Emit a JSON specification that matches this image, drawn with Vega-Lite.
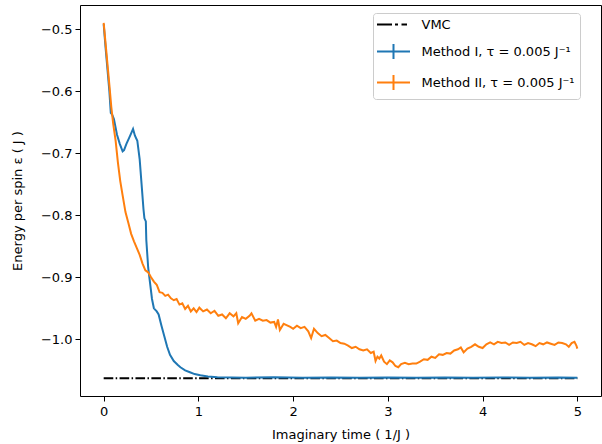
{
"$schema":"https://vega.github.io/schema/vega-lite/v6.json",
"width":521,"height":391,
"autosize":{"type":"none"},
"padding":{"left":80,"top":5,"right":1,"bottom":48},
"background":"white",
"config":{"view":{"stroke":"black","strokeWidth":1},"font":"DejaVu Sans",
 "axis":{"domain":false,"grid":false,"tickColor":"black","tickSize":5,"labelFontSize":13,"labelColor":"black","titleFontSize":13,"titleFontWeight":"normal","titleColor":"black"}},
"data":{"values":[
{"s":"VMC","t":0,"e":-1.0625},{"s":"VMC","t":5,"e":-1.0625},
{"s":"I","t":0,"e":-0.492},{"s":"I","t":0.02,"e":-0.53},{"s":"I","t":0.04,"e":-0.565},{"s":"I","t":0.06,"e":-0.6},{"s":"I","t":0.075,"e":-0.635},{"s":"I","t":0.09,"e":-0.638},{"s":"I","t":0.108,"e":-0.645},{"s":"I","t":0.14,"e":-0.67},{"s":"I","t":0.17,"e":-0.685},{"s":"I","t":0.2,"e":-0.697},{"s":"I","t":0.215,"e":-0.695},{"s":"I","t":0.24,"e":-0.685},{"s":"I","t":0.27,"e":-0.675},{"s":"I","t":0.29,"e":-0.668},{"s":"I","t":0.31,"e":-0.661},{"s":"I","t":0.33,"e":-0.672},{"s":"I","t":0.355,"e":-0.68},{"s":"I","t":0.38,"e":-0.71},{"s":"I","t":0.4,"e":-0.75},{"s":"I","t":0.42,"e":-0.79},{"s":"I","t":0.43,"e":-0.805},{"s":"I","t":0.445,"e":-0.81},{"s":"I","t":0.45,"e":-0.84},{"s":"I","t":0.47,"e":-0.885},{"s":"I","t":0.49,"e":-0.91},{"s":"I","t":0.51,"e":-0.935},{"s":"I","t":0.53,"e":-0.95},{"s":"I","t":0.56,"e":-0.955},{"s":"I","t":0.58,"e":-0.96},{"s":"I","t":0.61,"e":-0.978},{"s":"I","t":0.64,"e":-0.995},{"s":"I","t":0.67,"e":-1.012},{"s":"I","t":0.7,"e":-1.025},{"s":"I","t":0.74,"e":-1.035},{"s":"I","t":0.78,"e":-1.041},{"s":"I","t":0.81,"e":-1.045},{"s":"I","t":0.86,"e":-1.05},{"s":"I","t":0.91,"e":-1.053},{"s":"I","t":0.96,"e":-1.056},{"s":"I","t":1.02,"e":-1.058},{"s":"I","t":1.1,"e":-1.06},{"s":"I","t":1.2,"e":-1.0612},{"s":"I","t":1.5,"e":-1.0618},{"s":"I","t":1.8,"e":-1.0612},{"s":"I","t":2.1,"e":-1.062},{"s":"I","t":2.4,"e":-1.0613},{"s":"I","t":2.7,"e":-1.0619},{"s":"I","t":3.0,"e":-1.0614},{"s":"I","t":3.3,"e":-1.062},{"s":"I","t":3.6,"e":-1.0613},{"s":"I","t":3.9,"e":-1.0618},{"s":"I","t":4.2,"e":-1.0614},{"s":"I","t":4.5,"e":-1.0619},{"s":"I","t":4.8,"e":-1.0613},{"s":"I","t":5.0,"e":-1.0617},
{"s":"II","t":0,"e":-0.49},{"s":"II","t":0.03,"e":-0.54},{"s":"II","t":0.06,"e":-0.59},{"s":"II","t":0.08,"e":-0.625},{"s":"II","t":0.1,"e":-0.652},{"s":"II","t":0.126,"e":-0.68},{"s":"II","t":0.15,"e":-0.715},{"s":"II","t":0.175,"e":-0.745},{"s":"II","t":0.2,"e":-0.768},{"s":"II","t":0.23,"e":-0.795},{"s":"II","t":0.26,"e":-0.812},{"s":"II","t":0.29,"e":-0.83},{"s":"II","t":0.32,"e":-0.842},{"s":"II","t":0.35,"e":-0.853},{"s":"II","t":0.38,"e":-0.864},{"s":"II","t":0.41,"e":-0.878},{"s":"II","t":0.44,"e":-0.889},{"s":"II","t":0.47,"e":-0.892},{"s":"II","t":0.5,"e":-0.9},{"s":"II","t":0.53,"e":-0.907},{"s":"II","t":0.56,"e":-0.912},{"s":"II","t":0.59,"e":-0.924},{"s":"II","t":0.62,"e":-0.925},{"s":"II","t":0.65,"e":-0.93},{"s":"II","t":0.68,"e":-0.928},{"s":"II","t":0.71,"e":-0.934},{"s":"II","t":0.74,"e":-0.937},{"s":"II","t":0.77,"e":-0.935},{"s":"II","t":0.8,"e":-0.944},{"s":"II","t":0.83,"e":-0.942},{"s":"II","t":0.86,"e":-0.951},{"s":"II","t":0.89,"e":-0.946},{"s":"II","t":0.92,"e":-0.955},{"s":"II","t":0.95,"e":-0.95},{"s":"II","t":0.98,"e":-0.956},{"s":"II","t":1.01,"e":-0.949},{"s":"II","t":1.05,"e":-0.955},{"s":"II","t":1.09,"e":-0.952},{"s":"II","t":1.13,"e":-0.958},{"s":"II","t":1.17,"e":-0.954},{"s":"II","t":1.21,"e":-0.962},{"s":"II","t":1.25,"e":-0.96},{"s":"II","t":1.29,"e":-0.966},{"s":"II","t":1.33,"e":-0.958},{"s":"II","t":1.37,"e":-0.963},{"s":"II","t":1.4,"e":-0.958},{"s":"II","t":1.42,"e":-0.974},{"s":"II","t":1.46,"e":-0.964},{"s":"II","t":1.5,"e":-0.967},{"s":"II","t":1.54,"e":-0.962},{"s":"II","t":1.56,"e":-0.958},{"s":"II","t":1.6,"e":-0.97},{"s":"II","t":1.64,"e":-0.967},{"s":"II","t":1.68,"e":-0.97},{"s":"II","t":1.72,"e":-0.969},{"s":"II","t":1.76,"e":-0.973},{"s":"II","t":1.8,"e":-0.972},{"s":"II","t":1.82,"e":-0.98},{"s":"II","t":1.84,"e":-0.968},{"s":"II","t":1.86,"e":-0.985},{"s":"II","t":1.9,"e":-0.975},{"s":"II","t":1.93,"e":-0.977},{"s":"II","t":1.97,"e":-0.98},{"s":"II","t":2.0,"e":-0.983},{"s":"II","t":2.04,"e":-0.978},{"s":"II","t":2.08,"e":-0.982},{"s":"II","t":2.12,"e":-0.98},{"s":"II","t":2.16,"e":-0.987},{"s":"II","t":2.19,"e":-0.998},{"s":"II","t":2.22,"e":-0.983},{"s":"II","t":2.26,"e":-0.99},{"s":"II","t":2.3,"e":-0.995},{"s":"II","t":2.34,"e":-0.993},{"s":"II","t":2.38,"e":-0.998},{"s":"II","t":2.42,"e":-1.003},{"s":"II","t":2.46,"e":-1.002},{"s":"II","t":2.5,"e":-1.006},{"s":"II","t":2.54,"e":-1.007},{"s":"II","t":2.58,"e":-1.01},{"s":"II","t":2.62,"e":-1.014},{"s":"II","t":2.66,"e":-1.012},{"s":"II","t":2.7,"e":-1.016},{"s":"II","t":2.74,"e":-1.018},{"s":"II","t":2.78,"e":-1.016},{"s":"II","t":2.82,"e":-1.022},{"s":"II","t":2.85,"e":-1.02},{"s":"II","t":2.87,"e":-1.035},{"s":"II","t":2.89,"e":-1.028},{"s":"II","t":2.91,"e":-1.031},{"s":"II","t":2.93,"e":-1.026},{"s":"II","t":2.96,"e":-1.036},{"s":"II","t":2.99,"e":-1.04},{"s":"II","t":3.02,"e":-1.034},{"s":"II","t":3.05,"e":-1.037},{"s":"II","t":3.08,"e":-1.043},{"s":"II","t":3.11,"e":-1.045},{"s":"II","t":3.14,"e":-1.04},{"s":"II","t":3.18,"e":-1.038},{"s":"II","t":3.22,"e":-1.04},{"s":"II","t":3.26,"e":-1.039},{"s":"II","t":3.3,"e":-1.039},{"s":"II","t":3.34,"e":-1.036},{"s":"II","t":3.38,"e":-1.032},{"s":"II","t":3.42,"e":-1.033},{"s":"II","t":3.46,"e":-1.028},{"s":"II","t":3.5,"e":-1.03},{"s":"II","t":3.54,"e":-1.024},{"s":"II","t":3.58,"e":-1.025},{"s":"II","t":3.62,"e":-1.022},{"s":"II","t":3.66,"e":-1.023},{"s":"II","t":3.7,"e":-1.018},{"s":"II","t":3.74,"e":-1.016},{"s":"II","t":3.77,"e":-1.013},{"s":"II","t":3.8,"e":-1.021},{"s":"II","t":3.84,"e":-1.015},{"s":"II","t":3.88,"e":-1.012},{"s":"II","t":3.92,"e":-1.008},{"s":"II","t":3.96,"e":-1.012},{"s":"II","t":4.0,"e":-1.014},{"s":"II","t":4.04,"e":-1.008},{"s":"II","t":4.08,"e":-1.005},{"s":"II","t":4.12,"e":-1.008},{"s":"II","t":4.16,"e":-1.004},{"s":"II","t":4.2,"e":-1.006},{"s":"II","t":4.24,"e":-1.005},{"s":"II","t":4.28,"e":-1.009},{"s":"II","t":4.32,"e":-1.005},{"s":"II","t":4.36,"e":-1.006},{"s":"II","t":4.4,"e":-1.004},{"s":"II","t":4.44,"e":-1.009},{"s":"II","t":4.48,"e":-1.006},{"s":"II","t":4.52,"e":-1.008},{"s":"II","t":4.56,"e":-1.011},{"s":"II","t":4.6,"e":-1.006},{"s":"II","t":4.64,"e":-1.008},{"s":"II","t":4.68,"e":-1.005},{"s":"II","t":4.72,"e":-1.007},{"s":"II","t":4.76,"e":-1.009},{"s":"II","t":4.8,"e":-1.005},{"s":"II","t":4.84,"e":-1.006},{"s":"II","t":4.88,"e":-1.008},{"s":"II","t":4.91,"e":-1.012},{"s":"II","t":4.94,"e":-1.006},{"s":"II","t":4.97,"e":-1.004},{"s":"II","t":4.99,"e":-1.01},{"s":"II","t":5.0,"e":-1.015}
]},
"encoding":{
 "x":{"field":"t","type":"quantitative","scale":{"domain":[-0.25,5.25],"nice":false,"zero":false},
  "axis":{"values":[0,1,2,3,4,5],"format":"d","labelPadding":4,"title":"Imaginary time ( 1/J )","titlePadding":10}},
 "y":{"field":"e","type":"quantitative","scale":{"domain":[-1.0913,-0.4613],"nice":false,"zero":false},
  "axis":{"values":[-1.0,-0.9,-0.8,-0.7,-0.6,-0.5],"format":".1f","labelPadding":3,"title":"Energy per spin ε ( J )","titlePadding":16}},
 "color":{"field":"s","type":"nominal","scale":{"domain":["VMC","I","II"],"range":["#000000","#1f77b4","#ff7f0e"]},
  "legend":{"orient":"none","legendX":293,"legendY":8,"title":null,"fillColor":"white","strokeColor":"#cccccc","cornerRadius":3,"padding":5,"labelFontSize":13,"labelColor":"black","labelOffset":30.5,"rowPadding":8,"symbolStrokeWidth":2,"symbolSize":100,
   "labelExpr":"datum.label == 'VMC' ? 'VMC' : (datum.label == 'I' ? 'Method I, τ = 0.005 J⁻¹' : 'Method II, τ = 0.005 J⁻¹')",
   "encode":{"symbols":{"update":{"shape":{"signal":"datum.value == 'VMC' ? 'M-1.5,0H1.5M2.1,0H2.7M3.4,0H4.5' : 'M-1.5,0H5.1M1.8,-1.5V1.5'"},"fill":{"value":"transparent"},"strokeDash":{"value":[]}}}}}}
},
"layer":[
 {"transform":[{"filter":"datum.s == 'VMC'"}],"mark":{"type":"line","strokeWidth":2,"strokeDash":[9.6,2.4,1.5,2.4]}},
 {"transform":[{"filter":"datum.s == 'I'"}],"mark":{"type":"line","strokeWidth":2}},
 {"transform":[{"filter":"datum.s == 'II'"}],"mark":{"type":"line","strokeWidth":2}}
]
}
